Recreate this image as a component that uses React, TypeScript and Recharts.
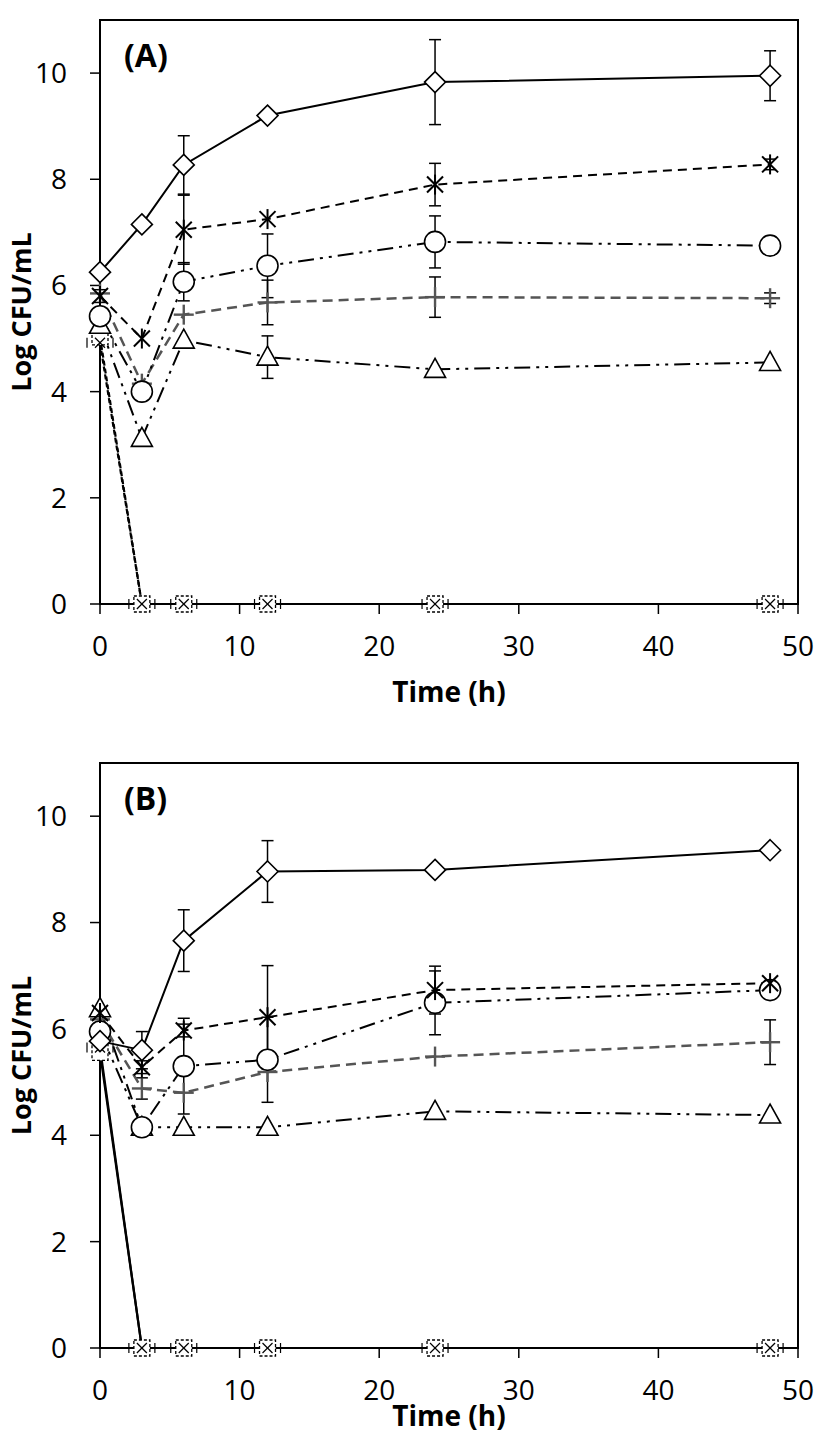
import React from 'react';
import { LineChart, Line, XAxis, YAxis, ErrorBar, ReferenceArea } from 'recharts';

const times = [0, 3, 6, 12, 24, 48];
const xTicks = [0, 10, 20, 30, 40, 50];
const yTicks = [0, 2, 4, 6, 8, 10];

// Panel A
const aDiamond = [6.25, 7.15, 8.27, 9.2, 9.83, 9.95];
const aDiamondErr = [0, 0, 0.55, 0, 0.8, 0.47];
const aStar = [5.8, 5.0, 7.05, 7.25, 7.9, 8.28];
const aStarErr = [0.12, 0, 0.65, 0, 0.4, 0.1];
const aCircle = [5.42, 4.0, 6.07, 6.37, 6.82, 6.75];
const aCircleErr = [0, 0, 0.36, 0.6, 0.49, 0];
const aPlus = [5.85, 4.15, 5.45, 5.68, 5.78, 5.76];
const aPlusErr = [0, 0, 0, 0.42, 0.38, 0.1];
const aTriangle = [5.25, 3.12, 4.97, 4.65, 4.42, 4.55];
const aTriangleErr = [0, 0, 0, 0.4, 0, 0];
const aSquare = [5.03, 0, 0, 0, 0, 0];
const aCross = [4.92, 0, 0, 0, 0, 0];

// Panel B
const bDiamond = [5.77, 5.6, 7.66, 8.96, 8.99, 9.36];
const bDiamondErr = [0, 0.35, 0.58, 0.58, 0, 0];
const bStar = [6.3, 5.28, 5.97, 6.22, 6.73, 6.86];
const bStarErr = [0, 0.12, 0.12, 0.97, 0.45, 0.05];
const bCircle = [5.95, 4.15, 5.3, 5.42, 6.49, 6.73];
const bCircleErr = [0, 0, 0.9, 0.8, 0.6, 0];
const bPlus = [6.18, 4.88, 4.8, 5.19, 5.48, 5.75];
const bPlusErr = [0, 0.2, 0, 0, 0, 0.42];
const bTriangle = [6.38, 4.15, 4.15, 4.15, 4.45, 4.38];
const bTriangleErr = [0, 0, 0, 0, 0, 0];
const bSquare = [5.56, 0, 0, 0, 0, 0];
const bCross = [5.65, 0, 0, 0, 0, 0];

const FONT = '"Open Sans", sans-serif';

function buildRows(s: any) {
  return times.map((t, i) => ({
    t,
    diamond: s.diamond[i], diamondErr: s.diamondErr[i],
    star: s.star[i], starErr: s.starErr[i],
    circle: s.circle[i], circleErr: s.circleErr[i],
    plus: s.plus[i], plusErr: s.plusErr[i],
    triangle: s.triangle[i], triangleErr: s.triangleErr[i],
    square: s.square[i], cross: s.cross[i],
  }));
}

const dataA = buildRows({
  diamond: aDiamond, diamondErr: aDiamondErr, star: aStar, starErr: aStarErr,
  circle: aCircle, circleErr: aCircleErr, plus: aPlus, plusErr: aPlusErr,
  triangle: aTriangle, triangleErr: aTriangleErr, square: aSquare, cross: aCross,
});
const dataB = buildRows({
  diamond: bDiamond, diamondErr: bDiamondErr, star: bStar, starErr: bStarErr,
  circle: bCircle, circleErr: bCircleErr, plus: bPlus, plusErr: bPlusErr,
  triangle: bTriangle, triangleErr: bTriangleErr, square: bSquare, cross: bCross,
});

const DiamondDot = (p: any) => {
  const { cx, cy, index } = p;
  if (cx == null || cy == null) return <g key={index} />;
  const r = 10.5;
  return <path key={index} d={`M${cx},${cy - r}L${cx + r},${cy}L${cx},${cy + r}L${cx - r},${cy}Z`} fill="#fff" stroke="#000" strokeWidth={1.6} />;
};
const StarDot = (p: any) => {
  const { cx, cy, index } = p;
  if (cx == null || cy == null) return <g key={index} />;
  const r = 10;
  const d = 8;
  return (
    <g key={index} stroke="#000" strokeWidth={2}>
      <line x1={cx} y1={cy - r} x2={cx} y2={cy + r} />
      <line x1={cx - d} y1={cy - d} x2={cx + d} y2={cy + d} />
      <line x1={cx - d} y1={cy + d} x2={cx + d} y2={cy - d} />
    </g>
  );
};
const CircleDot = (p: any) => {
  const { cx, cy, index } = p;
  if (cx == null || cy == null) return <g key={index} />;
  return <circle key={index} cx={cx} cy={cy} r={10.5} fill="#fff" stroke="#000" strokeWidth={1.6} />;
};
const PlusDot = (p: any) => {
  const { cx, cy, index } = p;
  if (cx == null || cy == null) return <g key={index} />;
  const r = 10;
  return (
    <g key={index} stroke="#555" strokeWidth={2.4}>
      <line x1={cx - r} y1={cy} x2={cx + r} y2={cy} />
      <line x1={cx} y1={cy - r} x2={cx} y2={cy + r} />
    </g>
  );
};
const TriangleDot = (p: any) => {
  const { cx, cy, index } = p;
  if (cx == null || cy == null) return <g key={index} />;
  return <path key={index} d={`M${cx},${cy - 11}L${cx + 10.5},${cy + 8}L${cx - 10.5},${cy + 8}Z`} fill="#fff" stroke="#000" strokeWidth={1.6} />;
};
const SquareDot = (p: any) => {
  const { cx, cy, index } = p;
  if (cx == null || cy == null) return <g key={index} />;
  const r = 8;
  return <rect key={index} x={cx - r} y={cy - r} width={2 * r} height={2 * r} fill="#fff" stroke="#000" strokeWidth={1.3} strokeDasharray="3 2" />;
};
const CrossDot = (p: any) => {
  const { cx, cy, index } = p;
  if (cx == null || cy == null) return <g key={index} />;
  const r = 5;
  return (
    <g key={index} stroke="#000" strokeWidth={1.2}>
      <line x1={cx - r} y1={cy - r} x2={cx + r} y2={cy + r} />
      <line x1={cx - r} y1={cy + r} x2={cx + r} y2={cy - r} />
      <line x1={cx - 13} y1={cy - 5} x2={cx - 13} y2={cy + 5} />
      <line x1={cx + 13} y1={cy - 5} x2={cx + 13} y2={cy + 5} />
    </g>
  );
};

const errProps = { width: 6, stroke: '#000', strokeWidth: 1.5, direction: 'y' as const };
const tickStyle = { fontSize: 28, fill: '#000', fontFamily: FONT };

function Panel({ data, tag, width, height, margin, xh, zeroDash, xLabelOffset }: any) {
  return (
    <LineChart width={width} height={height} data={data} margin={margin}>
      <XAxis
        dataKey="t" type="number" domain={[0, 50]} ticks={xTicks}
        axisLine={{ stroke: '#000', strokeWidth: 2 }} tickLine={{ stroke: '#000', strokeWidth: 1.5 }}
        tickSize={10} tickMargin={22} tick={tickStyle} height={xh}
        label={{ value: 'Time (h)', position: 'insideBottom', offset: xLabelOffset, fontSize: 28, fontWeight: 'bold', fill: '#000', fontFamily: FONT }}
      />
      <YAxis
        type="number" domain={[0, 11]} ticks={yTicks} width={100}
        axisLine={{ stroke: '#000', strokeWidth: 2 }} tickLine={{ stroke: '#000', strokeWidth: 1.5 }}
        tickSize={10} tickMargin={23} tick={tickStyle}
        label={{ value: 'Log CFU/mL', angle: -90, position: 'center', dx: -29, fontSize: 27, fontWeight: 'bold', fill: '#000', fontFamily: FONT }}
      />
      <ReferenceArea x1={0} x2={50} y1={0} y2={11} fill="none" stroke="#000" strokeWidth={2} ifOverflow="visible"
        label={{ value: tag, position: 'insideTopLeft', offset: 24, fontSize: 32, fontWeight: 'bold', fill: '#000', fontFamily: FONT }} />
      <Line type="linear" dataKey="square" stroke="#000" strokeWidth={2.2} strokeDasharray={zeroDash} dot={SquareDot} activeDot={false} isAnimationActive={false} />
      <Line type="linear" dataKey="cross" stroke="#000" strokeWidth={2.2} strokeDasharray={zeroDash} dot={CrossDot} activeDot={false} isAnimationActive={false} />
      <Line type="linear" dataKey="triangle" stroke="#000" strokeWidth={2} strokeDasharray="16 6 3 6 3 6" dot={TriangleDot} activeDot={false} isAnimationActive={false}>
        <ErrorBar dataKey="triangleErr" {...errProps} />
      </Line>
      <Line type="linear" dataKey="plus" stroke="#555" strokeWidth={2.5} strokeDasharray="10 6" dot={PlusDot} activeDot={false} isAnimationActive={false}>
        <ErrorBar dataKey="plusErr" {...errProps} />
      </Line>
      <Line type="linear" dataKey="circle" stroke="#000" strokeWidth={2} strokeDasharray="16 6 3 6 3 6" dot={CircleDot} activeDot={false} isAnimationActive={false}>
        <ErrorBar dataKey="circleErr" {...errProps} />
      </Line>
      <Line type="linear" dataKey="star" stroke="#000" strokeWidth={2} strokeDasharray="9 6" dot={StarDot} activeDot={false} isAnimationActive={false}>
        <ErrorBar dataKey="starErr" {...errProps} />
      </Line>
      <Line type="linear" dataKey="diamond" stroke="#000" strokeWidth={2} dot={DiamondDot} activeDot={false} isAnimationActive={false}>
        <ErrorBar dataKey="diamondErr" {...errProps} />
      </Line>
    </LineChart>
  );
}

export default function App() {
  return (
    <div style={{ position: 'fixed', top: 0, left: 0, width: 816, height: 1440, background: '#fff', overflow: 'hidden' }}>
      <Panel data={dataA} tag="(A)" width={816} height={728}
        margin={{ top: 20, right: 18, bottom: 14, left: 0 }} xh={110} zeroDash="5 3" xLabelOffset={12} />
      <Panel data={dataB} tag="(B)" width={816} height={712}
        margin={{ top: 35, right: 18, bottom: 12, left: 0 }} xh={80} zeroDash={undefined} xLabelOffset={2} />
    </div>
  );
}
